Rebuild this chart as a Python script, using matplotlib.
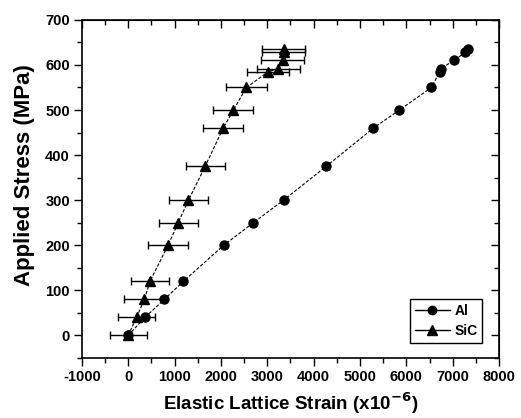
import matplotlib
matplotlib.use("Agg")
import matplotlib.pyplot as plt
from matplotlib.lines import Line2D
from matplotlib.ticker import MultipleLocator

plt.rcParams['font.family'] = ['Liberation Sans', 'DejaVu Sans']
plt.rcParams['axes.unicode_minus'] = False
plt.rcParams['mathtext.default'] = 'bf'

# Applied stress levels (MPa)
stress = [0, 40, 80, 120, 200, 250, 300, 375, 460, 500, 550, 585, 592, 610, 628, 636]

# Elastic lattice strain (x10^-6) for each phase
al_strain = [0, 360, 780, 1190, 2060, 2700, 3350, 4270, 5290, 5850, 6540, 6720, 6740, 7030, 7270, 7320]
sic_strain = [0, 180, 350, 470, 860, 1080, 1300, 1660, 2050, 2270, 2550, 3020, 3240, 3330, 3350, 3350]
sic_err = [400, 390, 450, 400, 430, 420, 430, 420, 430, 430, 440, 450, 460, 460, 460, 460]

fig = plt.figure(figsize=(5.21, 4.18), dpi=100)
ax = fig.add_axes([0.157, 0.1435, 0.801, 0.809])

line_style = dict(color='black', lw=0.8, linestyle=(0, (3, 1.5)))

ax.plot(al_strain, stress, marker='o', ms=6.5, mfc='black', mec='black', **line_style)
ax.errorbar(sic_strain, stress, xerr=sic_err, fmt='none', ecolor='black',
            elinewidth=1.0, capsize=3, capthick=1.0)
ax.plot(sic_strain, stress, marker='^', ms=7.5, mfc='black', mec='black', **line_style)

ax.set_xlim(-1000, 8000)
ax.set_ylim(-50, 700)
ax.xaxis.set_major_locator(MultipleLocator(1000))
ax.xaxis.set_minor_locator(MultipleLocator(500))
ax.yaxis.set_major_locator(MultipleLocator(100))
ax.yaxis.set_minor_locator(MultipleLocator(50))

ax.tick_params(which='both', direction='out', width=1.0, labelsize=10.5, pad=2.5)
ax.tick_params(which='major', length=6)
ax.tick_params(which='minor', length=3.5)
for lbl in ax.get_xticklabels() + ax.get_yticklabels():
    lbl.set_fontweight('bold')

# mirrored ticks on top and right, pointing inward
sec_x = ax.secondary_xaxis('top')
sec_x.xaxis.set_major_locator(MultipleLocator(1000))
sec_x.xaxis.set_minor_locator(MultipleLocator(500))
sec_x.tick_params(which='both', direction='in', labeltop=False, width=1.0)
sec_x.tick_params(which='major', length=6)
sec_x.tick_params(which='minor', length=3.5)
sec_y = ax.secondary_yaxis('right')
sec_y.yaxis.set_major_locator(MultipleLocator(100))
sec_y.yaxis.set_minor_locator(MultipleLocator(50))
sec_y.tick_params(which='both', direction='in', labelright=False, width=1.0)
sec_y.tick_params(which='major', length=6)
sec_y.tick_params(which='minor', length=3.5)

for sp in ax.spines.values():
    sp.set_linewidth(1.2)

ax.set_xlabel('Elastic Lattice Strain (x10$^{-6}$)', fontsize=13.5,
              fontweight='bold', labelpad=5)
ax.set_ylabel('Applied Stress (MPa)', fontsize=16, fontweight='bold')
ax.yaxis.set_label_coords(-0.113, 0.54)

handles = [
    Line2D([], [], color='black', lw=1.0, marker='o', ms=6, mfc='black', mec='black'),
    Line2D([], [], color='black', lw=1.0, marker='^', ms=7, mfc='black', mec='black'),
]
leg = ax.legend(handles, ['Al', 'SiC'], loc='lower right',
                bbox_to_anchor=(0.96, 0.044),
                prop={'size': 10, 'weight': 'bold'},
                frameon=True, fancybox=False, edgecolor='black', framealpha=1,
                handlelength=2.5, borderpad=0.35, labelspacing=0.45,
                handletextpad=0.35, borderaxespad=0.0)
leg.get_frame().set_linewidth(1.0)

fig.savefig('out.png', dpi=100)
